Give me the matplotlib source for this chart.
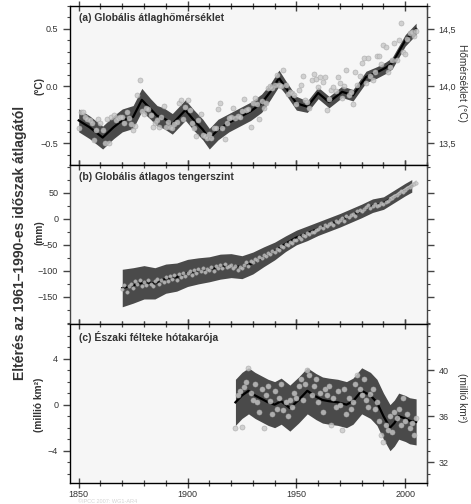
import matplotlib
matplotlib.use("Agg")
import matplotlib.pyplot as plt
from matplotlib.ticker import MultipleLocator, FixedLocator, FixedFormatter

plt.rcParams['font.family'] = ['Liberation Sans', 'DejaVu Sans']

# (a) global mean temperature, anomaly vs 1961-1990 (degC), annual values
temp_years = list(range(1850, 2006))
temp_annual = [
    -0.37, -0.23, -0.23, -0.27, -0.29, -0.30, -0.32, -0.47, -0.38, -0.29,
    -0.32, -0.38, -0.50, -0.29, -0.50, -0.27, -0.25, -0.30, -0.28, -0.27,
    -0.27, -0.32, -0.23, -0.28, -0.33, -0.38, -0.35, -0.08, 0.05, -0.22,
    -0.24, -0.19, -0.20, -0.25, -0.36, -0.32, -0.30, -0.36, -0.27, -0.17,
    -0.36, -0.31, -0.36, -0.37, -0.33, -0.31, -0.15, -0.12, -0.29, -0.18,
    -0.12, -0.21, -0.32, -0.37, -0.44, -0.30, -0.24, -0.43, -0.44, -0.45,
    -0.42, -0.45, -0.37, -0.37, -0.20, -0.15, -0.37, -0.46, -0.32, -0.28,
    -0.27, -0.19, -0.28, -0.26, -0.27, -0.22, -0.11, -0.21, -0.20, -0.36,
    -0.15, -0.10, -0.16, -0.29, -0.13, -0.19, -0.15, -0.02, -0.00, -0.02,
    0.01, 0.10, 0.01, 0.00, 0.14, 0.01, -0.07, -0.05, -0.06, -0.08,
    -0.16, -0.03, 0.01, 0.09, -0.12, -0.14, -0.19, 0.05, 0.11, 0.06,
    -0.01, 0.08, 0.04, 0.08, -0.21, -0.11, -0.03, -0.01, -0.04, 0.08,
    0.03, -0.10, 0.00, 0.14, -0.08, -0.05, -0.16, 0.12, 0.01, 0.09,
    0.20, 0.25, 0.03, 0.25, 0.09, 0.05, 0.12, 0.26, 0.26, 0.19,
    0.36, 0.34, 0.12, 0.17, 0.23, 0.38, 0.23, 0.40, 0.55, 0.30,
    0.28, 0.41, 0.46, 0.47, 0.44, 0.48,
]
# decadal smoothed curve and uncertainty half-width
temp_smooth_years = [1850, 1855, 1861, 1866, 1870, 1875, 1879, 1883, 1886, 1889,
                     1893, 1896, 1899, 1903, 1907, 1910, 1914, 1919, 1924, 1929,
                     1934, 1938, 1942, 1945, 1950, 1955, 1960, 1965, 1971, 1976,
                     1982, 1987, 1991, 1994, 1997, 2000, 2005]
temp_smooth = [-0.30, -0.36, -0.45, -0.36, -0.30, -0.27, -0.12, -0.20, -0.26, -0.28,
               -0.33, -0.27, -0.21, -0.30, -0.38, -0.46, -0.38, -0.32, -0.27, -0.22,
               -0.15, -0.05, 0.07, -0.01, -0.15, -0.18, -0.06, -0.14, -0.05, -0.08,
               0.08, 0.12, 0.16, 0.20, 0.30, 0.40, 0.50]
temp_band = [0.10, 0.10, 0.10, 0.10, 0.10, 0.10, 0.10, 0.09, 0.09, 0.09,
             0.09, 0.09, 0.09, 0.09, 0.09, 0.09, 0.09, 0.08, 0.08, 0.08,
             0.08, 0.07, 0.07, 0.06, 0.06, 0.05, 0.05, 0.05, 0.05, 0.05,
             0.05, 0.05, 0.05, 0.05, 0.05, 0.05, 0.05]

# (b) global mean sea level (mm)
sea_years = list(range(1870, 2006))
sea_annual = [
    -135, -128, -140, -130, -125, -132, -120, -126, -118, -130,
    -122, -128, -118, -125, -130, -120, -115, -126, -118, -122,
    -112, -120, -110, -115, -108, -118, -106, -112, -104, -110,
    -105, -100, -108, -98, -104, -96, -100, -94, -102, -96,
    -98, -92, -100, -90, -95, -88, -94, -86, -92, -90,
    -88, -94, -90, -98, -92, -95, -88, -84, -90, -82,
    -84, -78, -80, -74, -76, -70, -72, -66, -68, -62,
    -64, -58, -60, -52, -55, -48, -50, -44, -46, -40,
    -40, -36, -38, -32, -34, -28, -30, -25, -26, -22,
    -20, -16, -18, -12, -14, -10, -8, -12, -4, -6,
    -2, 2, -4, 6, 4, 8, 10, 6, 14, 16,
    14, 18, 22, 26, 20, 24, 28, 24, 26, 30,
    28, 32, 34, 38, 40, 44, 46, 50, 54, 52,
    56, 58, 60, 64, 66, 68,
]
sea_smooth_years = [1870, 1875, 1880, 1885, 1890, 1895, 1900, 1905, 1910, 1915,
                    1920, 1925, 1930, 1935, 1940, 1945, 1950, 1955, 1960, 1965,
                    1970, 1975, 1980, 1985, 1990, 1995, 2000, 2003]
sea_smooth = [-133, -128, -122, -124, -115, -112, -104, -100, -97, -92,
              -90, -93, -85, -73, -62, -48, -36, -28, -19, -11,
              -3, 6, 15, 25, 30, 43, 56, 63]
sea_band = [36, 34, 32, 30, 28, 27, 26, 25, 24, 24,
            23, 22, 21, 19, 17, 15, 14, 14, 13, 13,
            13, 13, 13, 13, 12, 12, 12, 12]
sat_years = [1993, 1996, 1999, 2002, 2005]
sat_level = [40, 47, 55, 63, 72]

# (c) northern hemisphere snow cover (million km2)
snow_years = list(range(1922, 2006))
snow_annual = [
    -2.0, 0.8, 1.2, -1.9, 1.5, 2.0, 3.2, 1.0, 0.4, 1.8,
    0.2, -0.6, 1.4, -2.0, 0.8, 1.6, 0.3, -0.8, 1.2, -0.4,
    0.6, 1.8, -0.5, 0.2, -1.0, 0.4, -0.2, 1.0, 0.6, 1.6,
    2.2, 0.4, 1.8, 3.0, 2.6, 0.8, 1.6, 2.2, 0.2, 1.0,
    -0.6, 1.4, 0.8, 1.6, -1.8, 0.6, -0.2, 1.2, 0.0, -2.2,
    1.4, -0.8, 0.6, -0.4, 0.2, 1.8, 2.6, 1.4, 0.8, 2.2,
    0.4, -0.2, 0.9, 1.4, -0.4, 0.2, -1.4, -2.6, -3.2, -1.8,
    -2.2, -1.0, -2.4, -0.6, -1.2, -0.4, -1.8, 0.6, -1.4, -0.8,
    -2.0, -1.6, -2.6, -1.2,
]
snow_smooth_years = [1922, 1925, 1928, 1931, 1934, 1937, 1940, 1943, 1947, 1951,
                     1955, 1959, 1962, 1965, 1969, 1973, 1976, 1980, 1984, 1987,
                     1990, 1993, 1995, 1997, 2000, 2002, 2005]
snow_smooth = [0.2, 0.8, 1.2, 0.8, 0.5, 0.2, 0.0, 0.3, -0.3, 0.4,
               1.2, 0.7, 0.4, 0.3, 0.2, 0.0, 0.3, 1.2, 0.8, 0.2,
               -1.0, -2.0, -1.6, -1.0, -1.2, -1.4, -1.5]
snow_band = [2.0] * len(snow_smooth_years)

BAND = '#4a4a4a'
TXT = '#333333'

fig = plt.figure(figsize=(4.71, 5.04), dpi=100)
gs = fig.add_gridspec(3, 1, left=0.1486, right=0.9066, top=0.988, bottom=0.0417, hspace=0)
axes = [fig.add_subplot(gs[i]) for i in range(3)]


def draw(ax, yrs, ann, syrs, smooth, band, ms=3.6):
    lo = [s - b for s, b in zip(smooth, band)]
    hi = [s + b for s, b in zip(smooth, band)]
    ax.fill_between(syrs, lo, hi, color=BAND, lw=0, zorder=1)
    ax.plot(syrs, smooth, color='black', lw=1.6, zorder=2)
    ax.plot(yrs, ann, 'o', ms=ms, mfc='#c8c8c8', mec='#aaaaaa', mew=0.5,
            alpha=0.8, zorder=3)


def style(ax):
    ax.set_facecolor('#f6f6f6')
    ax.set_xlim(1846, 2010)
    ax.xaxis.set_major_locator(MultipleLocator(50))
    ax.xaxis.set_minor_locator(MultipleLocator(10))
    ax.tick_params(axis='x', which='both', direction='inout', top=True, bottom=True,
                   colors='#444444', labelcolor=TXT, labelsize=6.5, pad=1.5)
    ax.tick_params(axis='x', which='major', length=7, width=1.0)
    ax.tick_params(axis='x', which='minor', length=4, width=0.9)
    ax.tick_params(axis='y', which='both', direction='out', colors='#444444',
                   labelcolor=TXT, labelsize=6.5)
    ax.tick_params(axis='y', which='major', length=5, width=1.0)
    ax.tick_params(axis='y', which='minor', length=2.5, width=0.8)
    for sp in ax.spines.values():
        sp.set_color('#444444')
        sp.set_linewidth(1.0)


# panel a
ax = axes[0]
draw(ax, temp_years, temp_annual, temp_smooth_years, temp_smooth, temp_band)
style(ax)
ax.set_ylim(-0.69, 0.70)
ax.yaxis.set_major_locator(FixedLocator([-0.5, 0.0, 0.5]))
ax.yaxis.set_major_formatter(FixedFormatter(['\u22120.5', '0.0', '0.5']))
ax.yaxis.set_minor_locator(MultipleLocator(0.1))
ax.text(0.025, 0.955, '(a) Globális átlaghőmérséklet', transform=ax.transAxes,
        fontsize=7.5, fontweight='bold', color=TXT, va='top')
axr = ax.twinx()
axr.set_ylim(-0.69 + 14.0, 0.70 + 14.0)
axr.yaxis.set_major_locator(FixedLocator([13.5, 14.0, 14.5]))
axr.yaxis.set_major_formatter(FixedFormatter(['13,5', '14,0', '14,5']))
axr.yaxis.set_minor_locator(MultipleLocator(0.1))
axr.tick_params(which='both', direction='out', colors='#444444', labelcolor=TXT, labelsize=6.5)
axr.tick_params(which='major', length=5, width=1.0)
axr.tick_params(which='minor', length=2.5, width=0.8)
axr.spines['right'].set_color('#444444')

# panel b
ax = axes[1]
draw(ax, sea_years, sea_annual, sea_smooth_years, sea_smooth, sea_band, ms=2.4)
ax.plot(sat_years, sat_level, color='#bbbbbb', lw=0.9, zorder=4)
style(ax)
ax.set_ylim(-202, 103)
ax.yaxis.set_major_locator(FixedLocator([-150, -100, -50, 0, 50]))
ax.yaxis.set_major_formatter(FixedFormatter(['\u2212150', '\u2212100', '\u221250', '0', '50']))
ax.yaxis.set_minor_locator(MultipleLocator(25))
ax.tick_params(axis='y', which='both', right=True, labelright=False)
ax.text(0.025, 0.955, '(b) Globális átlagos tengerszint', transform=ax.transAxes,
        fontsize=7.5, fontweight='bold', color=TXT, va='top')

# panel c
ax = axes[2]
draw(ax, snow_years, snow_annual, snow_smooth_years, snow_smooth, snow_band)
style(ax)
ax.set_ylim(-6.8, 7.0)
ax.yaxis.set_major_locator(FixedLocator([-4, 0, 4]))
ax.yaxis.set_major_formatter(FixedFormatter(['\u22124', '0', '4']))
ax.yaxis.set_minor_locator(MultipleLocator(1))
ax.text(0.025, 0.955, '(c) Északi félteke hótakarója', transform=ax.transAxes,
        fontsize=7.5, fontweight='bold', color=TXT, va='top')
axr = ax.twinx()
axr.set_ylim(-6.8 + 37.0, 7.0 + 37.0)
axr.yaxis.set_major_locator(FixedLocator([32, 36, 40]))
axr.yaxis.set_minor_locator(MultipleLocator(1))
axr.tick_params(which='both', direction='out', colors='#444444', labelcolor=TXT, labelsize=6.5)
axr.tick_params(which='major', length=5, width=1.0)
axr.tick_params(which='minor', length=2.5, width=0.8)
axr.spines['right'].set_color('#444444')

for ax in axes[:2]:
    ax.tick_params(axis='x', labelbottom=False)

# axis labels
fig.text(0.043, 0.518, 'Eltérés az 1961\u20131990-es időszak átlagától', rotation=90,
         ha='center', va='center', fontsize=10, fontweight='bold', color=TXT)
fig.text(0.083, 0.829, '(°C)', rotation=90, ha='center', va='center',
         fontsize=7.3, fontweight='bold', color=TXT)
fig.text(0.083, 0.538, '(mm)', rotation=90, ha='center', va='center',
         fontsize=7.3, fontweight='bold', color=TXT)
fig.text(0.083, 0.196, '(millió km²)', rotation=90, ha='center', va='center',
         fontsize=7.3, fontweight='bold', color=TXT)
fig.text(0.992, 0.835, 'Hőmérséklet (°C)', rotation=-90, ha='right', va='center',
         fontsize=7.3, color=TXT)
fig.text(0.992, 0.21, '(millió km²)', rotation=-90, ha='right', va='center',
         fontsize=7.3, color=TXT)
fig.text(0.165, 0.0, '©IPCC 2007: WG1-AR4', fontsize=4.0, color='#d4d4d4', va='bottom')

fig.savefig('out.png', dpi=100, facecolor='white')
